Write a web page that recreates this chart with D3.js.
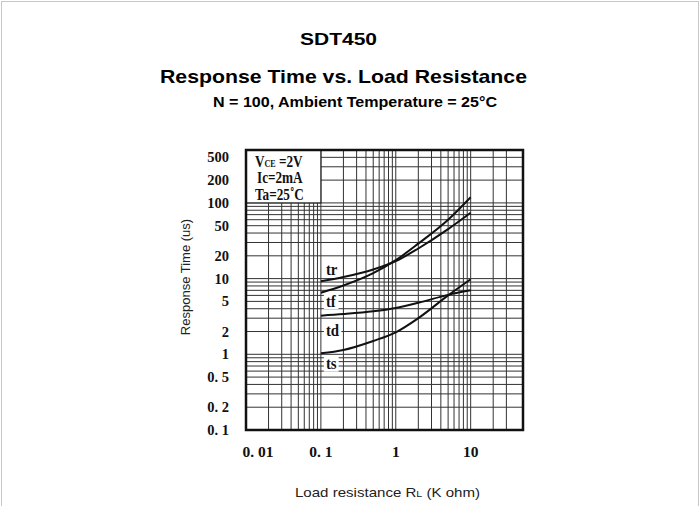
<!DOCTYPE html>
<html>
<head>
<meta charset="utf-8">
<script src="https://cdn.jsdelivr.net/npm/d3@7"></script>
<style>
  html, body { margin: 0; padding: 0; background: #fff; }
  svg { display: block; }
</style>
</head>
<body>
<svg id="chart" width="700" height="506"></svg>
<script>
// ---------- data ----------
const loadResistance = [0.1, 0.2, 0.5, 1, 2, 5, 10];           // K ohm
const trValues = [9.2, 10.5, 13.2, 17, 25, 45, 74];              // us
const tfValues = [6.5, 8.1, 11.8, 17.5, 29, 60, 119];
const tdValues = [3.24, 3.4, 3.7, 4.1, 4.8, 6.1, 7.0];
const tsValues = [1.03, 1.14, 1.5, 1.95, 3.0, 6.0, 9.8];
const seriesNames = ["tr", "tf", "td", "ts"];
const seriesLabelAt = [11.3, 4.23, 1.74, 0.63];                  // value where each label's baseline sits

const xTicks = [0.01, 0.1, 1, 10];
const xTickLabels = ["0. 01", "0. 1", "1", "10"];
const yTicks = [500, 200, 100, 50, 20, 10, 5, 2, 1, 0.5, 0.2, 0.1];
const yTickLabels = ["500", "200", "100", "50", "20", "10", "5", "2", "1", "0. 5", "0. 2", "0. 1"];
const xGridValues = [0.02,0.03,0.04,0.05,0.06,0.07,0.08,0.09,0.1,
                     0.2,0.3,0.4,0.5,0.6,0.7,0.8,0.9,1,
                     2,3,4,5,6,7,8,9,10,20,30];
const yGridValues = [0.2,0.3,0.4,0.5,0.6,0.7,0.8,0.9,1,
                     2,3,4,5,6,7,8,9,10,
                     20,30,40,50,60,70,80,90,100,200,300,400];
const conditionLines = ["Ic=2mA", "Ta=25˚C"];

const titleText = "SDT450";
const mainTitle = "Response Time vs. Load Resistance";
const subTitle = "N = 100, Ambient Temperature = 25°C";
const yAxisTitle = "Response Time (us)";

// ---------- layout ----------
const svg = d3.select("#chart");
const W = 700, H = 506;
const plot = { left: 246, right: 523, top: 150, bottom: 430 };

const x = d3.scaleLog().domain([0.01, 50]).range([plot.left, plot.right]);
const y = d3.scaleLog().domain([0.1, 500]).range([plot.bottom, plot.top]);

const serif = "'Liberation Serif', 'Times New Roman', serif";
const sans = "'Liberation Sans', Arial, Helvetica, sans-serif";

// page border
svg.append("rect").attr("x", 1.5).attr("y", 1.5).attr("width", W - 3).attr("height", H + 20)
  .attr("fill", "none").attr("stroke", "#c8c8c8").attr("stroke-width", 1);

// titles (the reference face is wider than Arial: stretch to its measured widths)
function title(txt, cx, by, size, width) {
  svg.append("text").attr("x", cx - width / 2).attr("y", by)
    .attr("font-family", sans).attr("font-weight", "bold").attr("font-size", size)
    .attr("textLength", width).attr("lengthAdjust", "spacingAndGlyphs")
    .attr("fill", "#000").text(txt);
}
title(titleText, 338.5, 45, 16.5, 77);
title(mainTitle, 343.5, 83, 18.5, 367);
title(subTitle, 355, 107, 14, 284);

// grid
const grid = svg.append("g");
grid.selectAll("line.vx").data(xGridValues).join("line")
  .attr("x1", d => x(d)).attr("x2", d => x(d))
  .attr("y1", plot.top).attr("y2", plot.bottom)
  .attr("stroke", "#333").attr("stroke-width", 1);
grid.selectAll("line.hy").data(yGridValues).join("line")
  .attr("x1", plot.left).attr("x2", plot.right)
  .attr("y1", d => y(d)).attr("y2", d => y(d))
  .attr("stroke", "#333").attr("stroke-width", 1);

// condition box (covers grid in the top-left corner: 0.01–0.1, 100–500)
svg.append("rect")
  .attr("x", x(0.01)).attr("y", y(500))
  .attr("width", x(0.1) - x(0.01)).attr("height", y(100) - y(500))
  .attr("fill", "#fff").attr("stroke", "#222").attr("stroke-width", 1.2);

const cond = svg.append("g").attr("font-family", serif).attr("font-weight", "bold").attr("font-size", 16.5).attr("fill", "#111");
const vce = cond.append("text").attr("transform", `translate(255,167) scale(0.8,1)`);
vce.append("tspan").text("V");
vce.append("tspan").attr("font-size", 10).text("CE");
vce.append("tspan").text(" =2V");
conditionLines.forEach((t, i) => {
  cond.append("text").attr("transform", `translate(${i === 0 ? 257 : 255},${183 + i * 17}) scale(0.8,1)`).text(t);
});

// curves
const seriesValues = [trValues, tfValues, tdValues, tsValues];
const line = d3.line().x(d => x(d[0])).y(d => y(d[1])).curve(d3.curveMonotoneX);
svg.append("g").selectAll("path").data(seriesValues).join("path")
  .attr("d", vals => line(vals.map((v, i) => [loadResistance[i], v])))
  .attr("fill", "none").attr("stroke", "#111").attr("stroke-width", 2);

// series labels with white backing
const labG = svg.append("g");
seriesNames.forEach((name, i) => {
  const tx = x(loadResistance[0]) + 5, ty = y(seriesLabelAt[i]);
  const t = labG.append("text")
    .attr("transform", `translate(${tx},${ty}) scale(0.9,1)`)
    .attr("font-family", serif).attr("font-weight", "bold").attr("font-size", 16.5).attr("fill", "#111")
    .text(name);
  const bb = t.node().getBBox();
  labG.insert("rect", () => t.node())
    .attr("x", tx + bb.x * 0.9 - 2).attr("y", ty + bb.y + 1)
    .attr("width", bb.width * 0.9 + 4).attr("height", bb.height - 2)
    .attr("fill", "#fff");
});

// frame
svg.append("rect").attr("x", plot.left).attr("y", plot.top)
  .attr("width", plot.right - plot.left).attr("height", plot.bottom - plot.top)
  .attr("fill", "none").attr("stroke", "#111").attr("stroke-width", 2.5);

// y tick labels
svg.append("g").selectAll("text").data(yTicks).join("text")
  .attr("x", 229).attr("y", d => Math.max(y(d), plot.top + 7)).attr("dy", "0.35em")
  .attr("text-anchor", "end")
  .attr("font-family", serif).attr("font-weight", "bold").attr("font-size", 14.5).attr("fill", "#111")
  .text((d, i) => yTickLabels[i]);

// x tick labels
svg.append("g").selectAll("text").data(xTicks).join("text")
  .attr("x", d => Math.max(x(d), plot.left + 12)).attr("y", 457)
  .attr("text-anchor", "middle")
  .attr("font-family", serif).attr("font-weight", "bold").attr("font-size", 15.5).attr("fill", "#111")
  .text((d, i) => xTickLabels[i]);

// axis titles
svg.append("text").attr("transform", "translate(190,277) rotate(-90)")
  .attr("text-anchor", "middle").attr("font-family", sans).attr("font-size", 13).attr("fill", "#222")
  .text(yAxisTitle);

const xt = svg.append("text").attr("x", 295).attr("y", 497)
  .attr("font-family", sans).attr("font-size", 13.5).attr("fill", "#222")
  .attr("textLength", 185).attr("lengthAdjust", "spacingAndGlyphs");
xt.append("tspan").text("Load resistance R");
xt.append("tspan").attr("font-size", 9.5).text("L");
xt.append("tspan").text(" (K ohm)");
</script>
</body>
</html>
